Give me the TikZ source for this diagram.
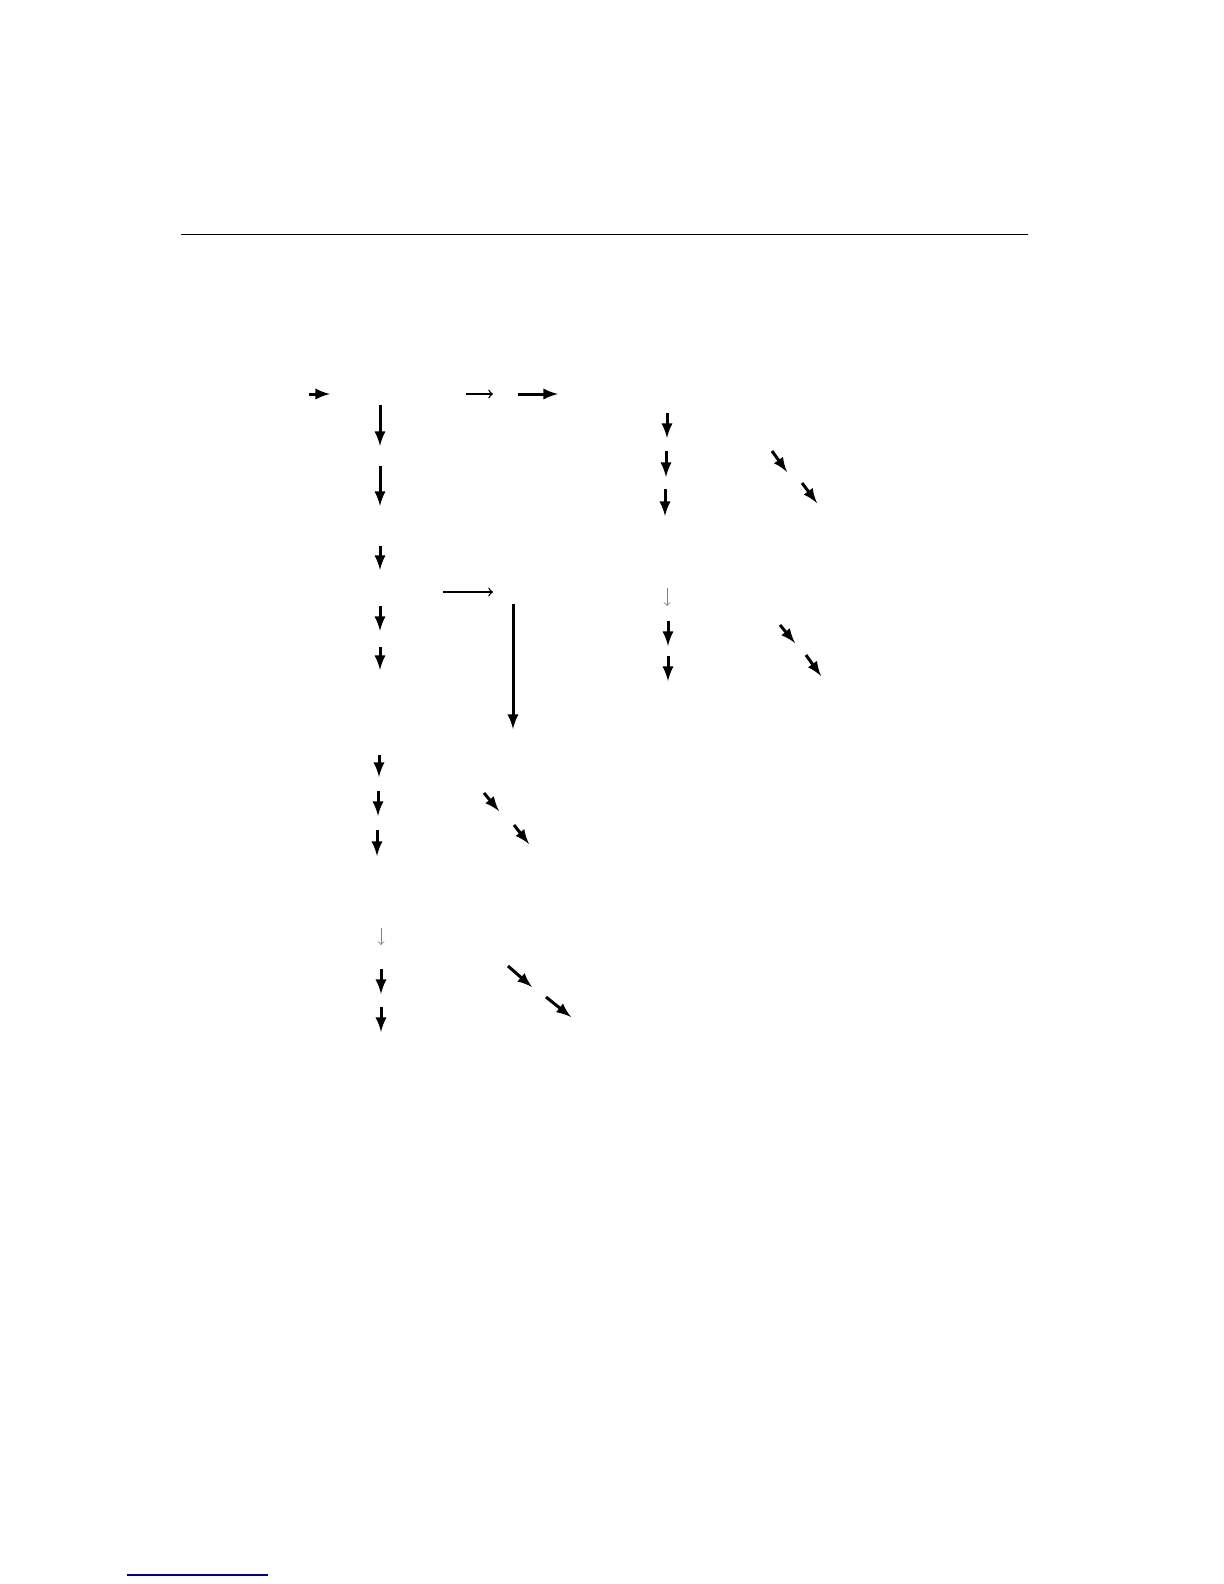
\documentclass[tikz,border=0pt]{standalone}
\usepackage{tikz}
\usetikzlibrary{calc}

\tikzset{
  arr/.style={->, line width=1.5bp},
  thinarr/.style={-to, line width=0.7bp},
  greyarr/.style={-to, line width=0.4bp, gray}
}

\begin{document}
\begin{tikzpicture}[>=latex, x=0.5bp, y=-0.5bp]
  \useasboundingbox (0,0) rectangle (1224,1584);
  \draw [line width=0.5bp] (181,234) -- (1028,234);
  % top row
  \draw [arr] (309,394) -- (330,394);
  \draw [thinarr] (466,394) -- (493,394);
  \draw [arr] (518,394) -- (558,394);
  % left column
  \draw [arr] (380,405) -- (380,446);
  \draw [arr] (380,466) -- (380,506);
  \draw [arr] (380,546) -- (380,570);
  \draw [arr] (380,606) -- (380,631);
  \draw [arr] (380,647) -- (380,670);
  \draw [arr] (379,755) -- (379,777);
  \draw [arr] (378,791) -- (378,816);
  \draw [arr] (377,830) -- (377,856);
  \draw [greyarr] (381,928) -- (381,945);
  \draw [arr] (381,969) -- (381,994);
  \draw [arr] (381,1007) -- (381,1032);
  % middle
  \draw [thinarr] (443,592) -- (493,592);
  \draw [arr] (513,604) -- (513,729);
  \draw [arr] (484,793) -- (499,811);
  \draw [arr] (514,825) -- (529,844);
  \draw [arr] (508,966) -- (532,987);
  \draw [arr] (546,997) -- (571,1017);
  % right column
  \draw [arr] (667,413) -- (667,438);
  \draw [arr] (666,451) -- (666,477);
  \draw [arr] (665,489) -- (665,516);
  \draw [greyarr] (667,588) -- (667,606);
  \draw [arr] (668,621) -- (668,646);
  \draw [arr] (668,656) -- (668,681);
  \draw [arr] (772,451) -- (787,472);
  \draw [arr] (802,483) -- (817,503);
  \draw [arr] (780,625) -- (795,643);
  \draw [arr] (806,655) -- (821,676);
  % footnote rule
  \draw [line width=0.7bp, blue!55!black] (127,1575) -- (268,1575);
\end{tikzpicture}
\end{document}
